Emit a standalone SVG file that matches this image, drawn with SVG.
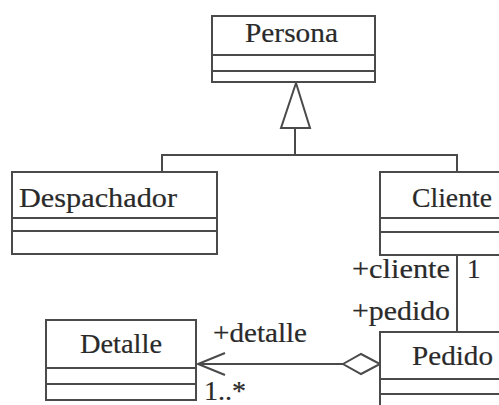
<svg xmlns="http://www.w3.org/2000/svg" width="499" height="405" viewBox="0 0 499 405">
  <style>
    .box { fill: #ffffff; stroke: #4a4a4a; stroke-width: 2; }
    .sep { stroke: #4a4a4a; stroke-width: 2; fill: none; }
    .line { stroke: #4a4a4a; stroke-width: 2; fill: none; }
    .name, .role { font-family: 'Liberation Serif', serif; fill: #2a2a2a; stroke: #2a2a2a; stroke-width: 0.2; }
    .name { font-size: 28px; }
    .role { font-size: 27px; }
  </style>
  <rect width="499" height="405" fill="#ffffff"/>

  <g id="connectors">
    <!-- generalization: Despachador / Cliente to Persona -->
    <polyline class="line" points="162,172 162,155 457,155 457,172"/>
    <line class="line" x1="295" y1="155" x2="295" y2="128"/>
    <polygon points="296,83 281,128 310,128" fill="#ffffff" stroke="#4a4a4a" stroke-width="2"/>
    <!-- association Cliente - Pedido -->
    <line class="line" x1="457" y1="255" x2="457" y2="332"/>
    <text class="role" x="352" y="278" textLength="98" lengthAdjust="spacingAndGlyphs">+cliente</text>
    <text class="role" x="467" y="278">1</text>
    <text class="role" x="352" y="320" textLength="98" lengthAdjust="spacingAndGlyphs">+pedido</text>
    <!-- aggregation Pedido - Detalle -->
    <line class="line" x1="198" y1="364" x2="343" y2="364"/>
    <polyline class="line" points="225,353 198,364 225,375"/>
    <polygon points="343,364 361,354 380,364 361,374" fill="#ffffff" stroke="#4a4a4a" stroke-width="2"/>
    <text class="role" x="213" y="342" textLength="94" lengthAdjust="spacingAndGlyphs">+detalle</text>
    <text class="role" x="204" y="400" textLength="42" lengthAdjust="spacingAndGlyphs">1..*</text>
  </g>

  <g id="persona">
    <rect class="box" x="212" y="16" width="163" height="66"/>
    <line class="sep" x1="212" y1="55" x2="375" y2="55"/>
    <line class="sep" x1="212" y1="71" x2="375" y2="71"/>
    <text class="name" x="245" y="42" textLength="93" lengthAdjust="spacingAndGlyphs">Persona</text>
  </g>

  <g id="despachador">
    <rect class="box" x="12" y="172" width="205" height="82"/>
    <line class="sep" x1="12" y1="218" x2="217" y2="218"/>
    <line class="sep" x1="12" y1="231" x2="217" y2="231"/>
    <text class="name" x="19" y="207" textLength="158" lengthAdjust="spacingAndGlyphs">Despachador</text>
  </g>

  <g id="cliente">
    <rect class="box" x="380" y="172" width="130" height="83"/>
    <line class="sep" x1="380" y1="218" x2="510" y2="218"/>
    <line class="sep" x1="380" y1="232" x2="510" y2="232"/>
    <text class="name" x="412" y="207" textLength="80" lengthAdjust="spacingAndGlyphs">Cliente</text>
  </g>

  <g id="pedido">
    <rect class="box" x="380" y="332" width="130" height="90"/>
    <line class="sep" x1="380" y1="379" x2="510" y2="379"/>
    <line class="sep" x1="380" y1="394" x2="510" y2="394"/>
    <text class="name" x="412" y="365" textLength="81" lengthAdjust="spacingAndGlyphs">Pedido</text>
  </g>

  <g id="detalle">
    <rect class="box" x="46" y="320" width="150" height="80"/>
    <line class="sep" x1="46" y1="368" x2="196" y2="368"/>
    <line class="sep" x1="46" y1="384" x2="196" y2="384"/>
    <text class="name" x="80" y="353" textLength="82" lengthAdjust="spacingAndGlyphs">Detalle</text>
  </g>
</svg>
